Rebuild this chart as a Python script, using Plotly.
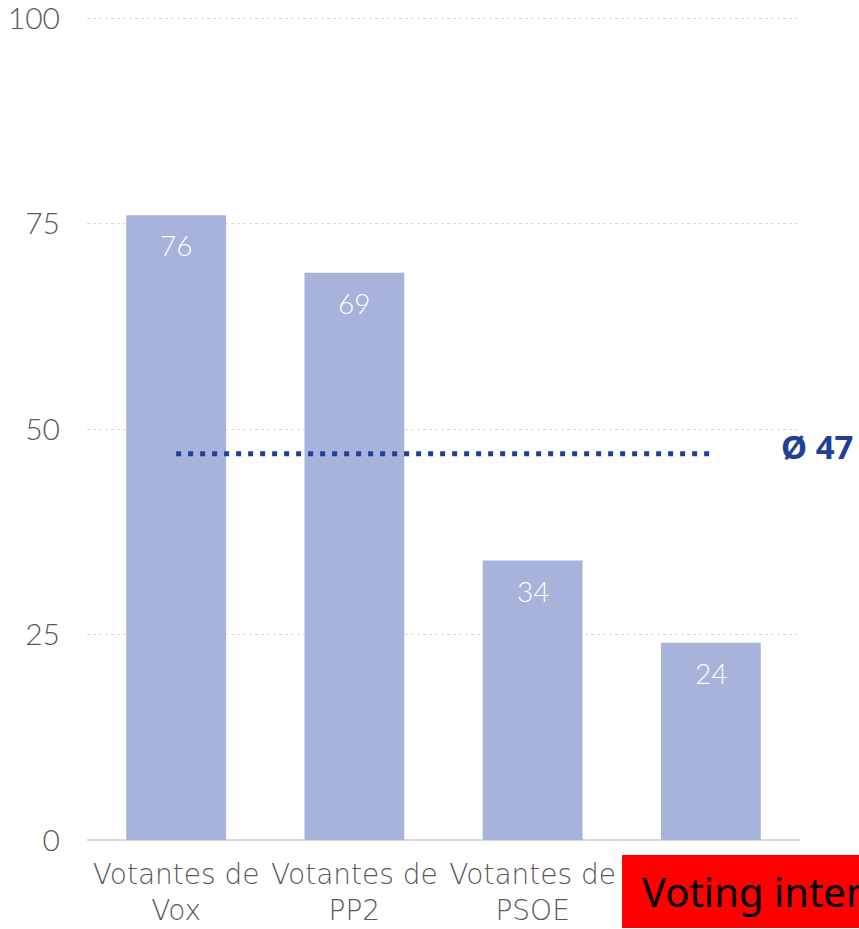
import plotly.graph_objects as go

categories = ["Votantes de<br>Vox", "Votantes de<br>PP2", "Votantes de<br>PSOE", "Votantes de<br>Sumar"]
values = [76, 69, 34, 24]
average = 47
y_ticks = [0, 25, 50, 75, 100]
overlay_text = "Voting intention"

BAR = "#a8b3dc"
AVG = "#1f3f98"
TXT = "#595959"
FONT = "Lato"

W, H = 859, 929
ML, MR, MT, MB = 87, 59, 16, 89
YMAX = 100.25
pw = W - ML - MR
ph = H - MT - MB
base_y = H - MB

fig = go.Figure()
fig.add_trace(go.Bar(x=categories, y=values, marker=dict(color=BAR, line=dict(width=0)),
                     width=0.56, hoverinfo="skip"))
fig.add_trace(go.Scatter(x=[categories[0], categories[-1]], y=[average, average], mode="lines",
                         line=dict(color=AVG, width=5, dash="5px,7px"), hoverinfo="skip"))

for c, v in zip(categories, values):
    fig.add_annotation(x=c, y=v, xref="x", yref="y", text=str(v), showarrow=False,
                       yanchor="top", yshift=-11,
                       font=dict(family=FONT, size=28, color="white", weight=300))

fig.add_annotation(x=(779 - ML) / pw, y=average, xref="paper", yref="y", text=f"<b>Ø {average}</b>",
                   showarrow=False, xanchor="left", yanchor="middle", yshift=7,
                   font=dict(family="Noto Sans", size=33, color=AVG))

# red overlay box
fig.add_shape(type="rect", xref="paper", yref="paper",
              x0=(622 - ML) / pw, x1=1.2, y0=-(928 - base_y) / ph, y1=-(855 - base_y) / ph,
              fillcolor="#ff0000", line=dict(width=0), layer="above")
fig.add_annotation(x=(640 - ML) / pw, y=-(891 - base_y) / ph, xref="paper", yref="paper",
                   text=overlay_text, showarrow=False, xanchor="left", yanchor="middle",
                   font=dict(family="Noto Sans", size=40, color="black"))

fig.update_layout(
    width=W, height=H, margin=dict(l=ML, r=MR, t=MT, b=MB, autoexpand=False),
    paper_bgcolor="white", plot_bgcolor="white", showlegend=False,
    xaxis=dict(showgrid=False, showline=False, ticks="", zeroline=False, automargin=False,
               ticklabelstandoff=15,
               tickfont=dict(family="DejaVu Sans", size=28, color=TXT, weight=200)),
    yaxis=dict(range=[0, YMAX], tickvals=y_ticks, showgrid=True, gridcolor="#d9d9d9",
               griddash="dot", gridwidth=1, zeroline=True, zerolinecolor="#d9d9d9",
               zerolinewidth=2, showline=False, ticks="", ticklabelstandoff=26,
               ticklabeloverflow="allow", automargin=False,
               tickfont=dict(family=FONT, size=30, color=TXT, weight=300)),
)

fig.write_html("out.html", config={"displayModeBar": False},
               post_script="document.body.style.margin='0';document.body.style.overflow='hidden';")
